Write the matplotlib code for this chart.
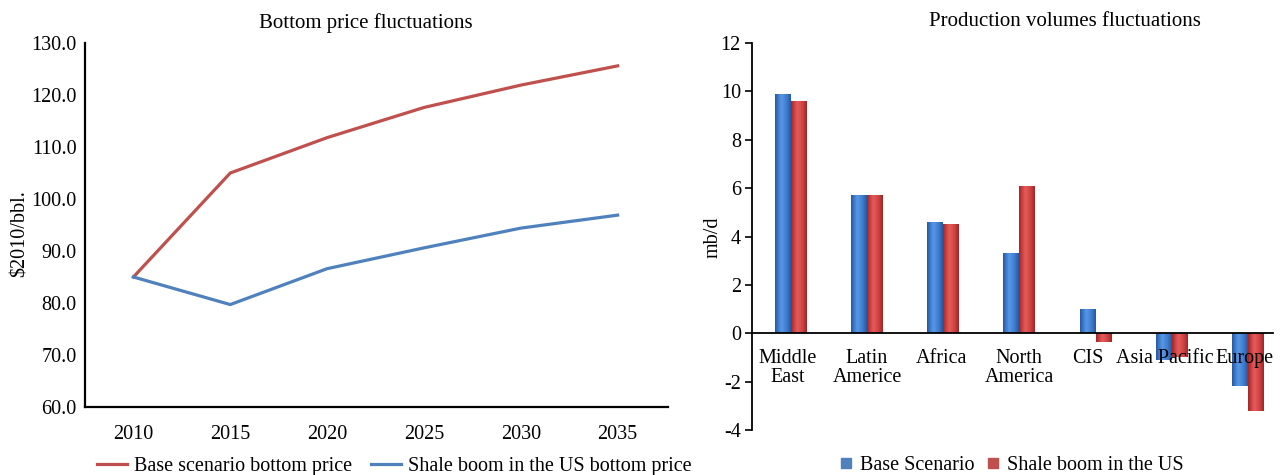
import matplotlib.pyplot as plt
import numpy as np
from matplotlib.lines import Line2D
from matplotlib.transforms import ScaledTranslation

plt.rcParams['font.family'] = ['Liberation Serif', 'DejaVu Serif']
plt.rcParams['font.size'] = 14.5
plt.rcParams['axes.unicode_minus'] = False

# %% data
years = [2010, 2015, 2020, 2025, 2030, 2035]
base_price = [85.0, 105.0, 111.8, 117.6, 121.9, 125.6]
shale_price = [85.0, 79.7, 86.6, 90.6, 94.4, 96.9]

regions = ["Middle\nEast", "Latin\nAmerice", "Africa", "North\nAmerica",
           "CIS", "Asia Pacific", "Europe"]
base_volume = [9.9, 5.7, 4.6, 3.3, 1.0, -1.1, -2.2]
shale_volume = [9.6, 5.7, 4.5, 6.1, -0.35, -1.0, -3.2]

red = "#c0504d"
blue = "#4f81bd"

W, H = 1285, 475
fig = plt.figure(figsize=(W / 100, H / 100), dpi=100)

# %% left: bottom price
ax = fig.add_axes([85 / W, 1 - 407 / H, (668 - 85) / W, (407 - 43) / H])
ax.plot(years, base_price, color=red, lw=2.3, label="Base scenario bottom price")
ax.plot(years, shale_price, color=blue, lw=2.3, label="Shale boom in the US bottom price")
ax.set_xlim(2007.5, 2037.6)
ax.set_ylim(60, 130)
ax.set_xticks(years)
ax.set_yticks(np.arange(60, 131, 10))
ax.yaxis.set_major_formatter(plt.FormatStrFormatter("%.1f"))
ax.tick_params(axis="both", length=0)
ax.tick_params(axis="x", pad=13)
ax.tick_params(axis="y", pad=6)
for s in ["top", "right"]:
    ax.spines[s].set_visible(False)
for s in ["left", "bottom"]:
    ax.spines[s].set_linewidth(1.6)
fig.text(366 / W, 1 - 23 / H, "Bottom price fluctuations", ha="center", va="center", fontsize=15)
fig.text(20 / W, 1 - 234 / H, "$2010/bbl.", rotation=90, ha="center", va="center")
fig.legend(handles=ax.get_lines(), loc="center left", bbox_to_anchor=(97 / W, 1 - 466 / H),
           ncol=2, frameon=False, handlelength=1.5, handletextpad=0.35,
           columnspacing=0.9, borderaxespad=0, borderpad=0)

# %% right: production volumes
bx = fig.add_axes([752 / W, 1 - 430 / H, (1273 - 752) / W, (430 - 43) / H])
x = np.arange(len(regions))
w = 0.21
b1 = bx.bar(x - w / 2, base_volume, w, color=blue, zorder=1)
b2 = bx.bar(x + w / 2, shale_volume, w, color=red, zorder=1)


def shade(bars, dark, mid, light):
    # horizontal gradient across each bar, lighter just left of centre
    cols = np.array([dark, mid, light, mid, dark])
    pos = np.linspace(0, 1, 60)
    grad = np.stack([np.interp(pos, [0, 0.2, 0.4, 0.75, 1], cols[:, k]) for k in range(3)], -1)
    img = grad[None, :, :]
    for b in bars:
        x0, y0 = b.get_x(), b.get_y()
        im = bx.imshow(img, extent=[x0, x0 + b.get_width(), y0, y0 + b.get_height()],
                       aspect="auto", zorder=1.2, interpolation="bilinear")
        im.set_clip_path(b)


shade(b1, (0.16, 0.34, 0.62), (0.24, 0.48, 0.80), (0.34, 0.60, 0.90))
shade(b2, (0.62, 0.15, 0.15), (0.80, 0.25, 0.25), (0.90, 0.36, 0.36))

bx.set_xlim(-0.51, 6.33)
bx.set_ylim(-4, 12)
bx.set_yticks(np.arange(-4, 13, 2))
bx.set_axisbelow(False)
bx.spines["bottom"].set_position(("data", 0))
bx.spines["bottom"].set_linewidth(1.3)
bx.spines["left"].set_linewidth(1.3)
for s in ["top", "right"]:
    bx.spines[s].set_visible(False)
bx.set_xticks(x)
bx.set_xticklabels(regions, linespacing=1.0)
bx.tick_params(axis="x", length=0, pad=11)
bx.tick_params(axis="y", length=5, width=1.2, direction="out", pad=3)
# nudge a few category labels left, as in the original
shifts = [-3, 0, -2, 0, -8, -7, -3]
for lbl, dx in zip(bx.get_xticklabels(), shifts):
    lbl.set_transform(lbl.get_transform() + ScaledTranslation(dx / 100, 0, fig.dpi_scale_trans))
fig.text(1065 / W, 1 - 21 / H, "Production volumes fluctuations", ha="center", va="center", fontsize=15)
fig.text(713 / W, 1 - 237 / H, "mb/d", rotation=90, ha="center", va="center")
handles = [Line2D([], [], ls="none", marker="s", ms=7, color=blue, label="Base Scenario"),
           Line2D([], [], ls="none", marker="s", ms=7, color=red, label="Shale boom in the US")]
fig.legend(handles=handles, loc="center left", bbox_to_anchor=(840 / W, 1 - 465 / H), ncol=2,
           frameon=False, handlelength=0.6, handletextpad=0.4, columnspacing=0.6,
           borderaxespad=0, borderpad=0)

fig.savefig("out.png", dpi=100)
